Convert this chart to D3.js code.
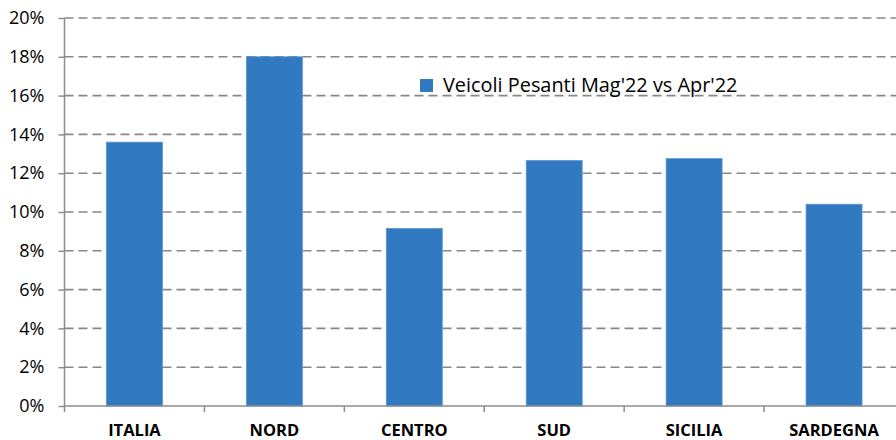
<!DOCTYPE html>
<html>
<head>
<meta charset="utf-8">
<script src="https://cdn.jsdelivr.net/npm/d3@7"></script>
<style>
  body { margin: 0; background: #fff; }
  svg { display: block; font-family: 'Open Sans', sans-serif; }
</style>
</head>
<body>
<div class="bar-chart"></div>
<script>
const categories = ['ITALIA', 'NORD', 'CENTRO', 'SUD', 'SICILIA', 'SARDEGNA'];
const values = [13.6, 18.0, 9.15, 12.65, 12.75, 10.4];
const seriesName = "Veicoli Pesanti Mag'22 vs Apr'22";
const yTicks = [0, 2, 4, 6, 8, 10, 12, 14, 16, 18, 20];

const margin = { top: 18, right: -8, bottom: 34, left: 64.5 };
const width = 896 - margin.left - margin.right;
const height = 440 - margin.top - margin.bottom;

const svg = d3
  .select('.bar-chart')
  .append('svg')
  .attr('width', 896)
  .attr('height', 440);

const g = svg.append('g').attr('transform', `translate(${margin.left}, ${margin.top})`);

const xScale = d3.scaleBand().domain(categories).range([0, width]).paddingInner(0.6).paddingOuter(0.3);
const yScale = d3.scaleLinear().domain([0, 20]).range([height, 0]);

// dashed grid
g.selectAll('.grid')
  .data(yTicks.slice(1))
  .enter()
  .append('line')
  .attr('class', 'grid')
  .attr('x1', 0)
  .attr('x2', width)
  .attr('y1', (d) => yScale(d))
  .attr('y2', (d) => yScale(d))
  .attr('stroke', '#878787')
  .attr('stroke-width', 1.6)
  .attr('stroke-dasharray', '9,5');

// bars
g.selectAll('rect.bar')
  .data(values)
  .enter()
  .append('rect')
  .attr('class', 'bar')
  .attr('x', (d, i) => xScale(categories[i]))
  .attr('width', xScale.bandwidth())
  .attr('y', (d) => yScale(d))
  .attr('height', (d) => height - yScale(d))
  .attr('fill', '#317ac1')
  .attr('stroke', '#5b95cf')
  .attr('stroke-width', 0.8);

// y axis
const yAxis = d3.axisLeft(yScale).tickValues(yTicks).tickSize(6).tickFormat((d) => d + '%');
const yG = g.append('g').attr('id', 'y-axis').call(yAxis);
yG.select('.domain').attr('stroke', '#8c8c8c').attr('stroke-width', 1.5).attr('d', `M0,0V${height}`);
yG.selectAll('.tick line').attr('stroke', '#8c8c8c').attr('stroke-width', 1.5);
yG.selectAll('.tick text')
  .attr('x', -20)
  .attr('fill', '#000')
  .style('font-size', '18px')
  .style('font-family', "'Open Sans', sans-serif");

// x axis with tick marks at category boundaries
const step = xScale.step();
const xG = g.append('g').attr('id', 'x-axis').attr('transform', `translate(0, ${height})`);
xG.append('line')
  .attr('x1', 0)
  .attr('x2', width)
  .attr('stroke', '#8c8c8c')
  .attr('stroke-width', 1.5);
xG.selectAll('.xtick')
  .data(d3.range(categories.length + 1))
  .enter()
  .append('line')
  .attr('class', 'xtick')
  .attr('x1', (i) => i * step)
  .attr('x2', (i) => i * step)
  .attr('y1', 0)
  .attr('y2', 6)
  .attr('stroke', '#8c8c8c')
  .attr('stroke-width', 1.5);
xG.selectAll('.xlabel')
  .data(categories)
  .enter()
  .append('text')
  .attr('class', 'xlabel')
  .attr('x', (d) => xScale(d) + xScale.bandwidth() / 2)
  .attr('y', 30)
  .attr('text-anchor', 'middle')
  .style('font-size', '16.5px')
  .style('font-weight', 'bold')
  .text((d) => d);

// legend
const legend = svg.append('g').attr('transform', 'translate(420, 79)');
legend.append('rect').attr('width', 13).attr('height', 13).attr('fill', '#317ac1');
legend
  .append('text')
  .attr('x', 23)
  .attr('y', 13)
  .style('font-size', '19.9px')
  .text(seriesName);
</script>
</body>
</html>
